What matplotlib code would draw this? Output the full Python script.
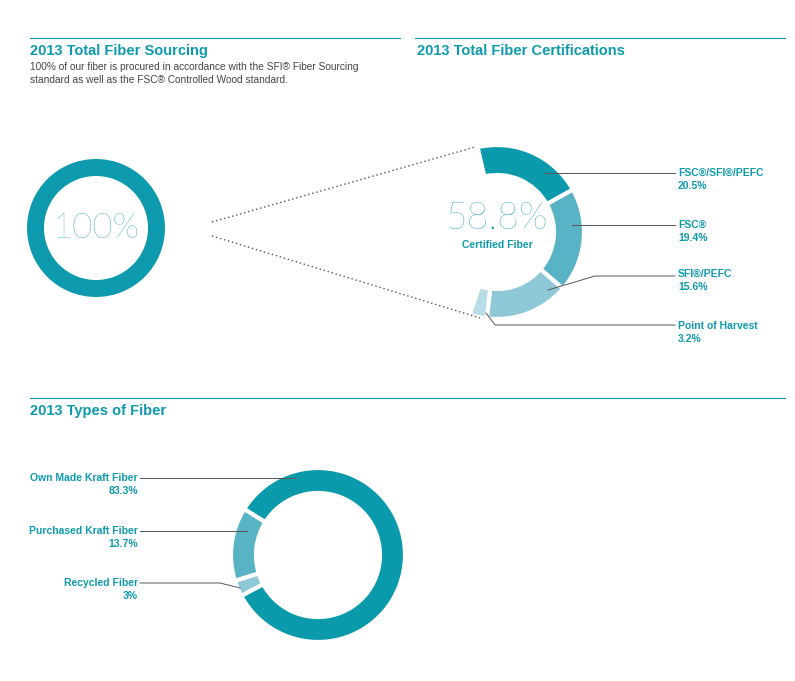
import matplotlib
matplotlib.use("Agg")
import matplotlib.pyplot as plt

plt.rcParams['font.family'] = ['Liberation Sans', 'DejaVu Sans']

TEAL = '#0e9aae'
cert_labels = ['FSC®/SFI®/PEFC', 'FSC®', 'SFI®/PEFC', 'Point of Harvest']
cert_values = [20.5, 19.4, 15.6, 3.2]
cert_colors = ['#0a9aab', '#58b3c5', '#8fc8d6', '#b9dde7']
certified_total = 58.8
type_labels = ['Purchased Kraft Fiber', 'Recycled Fiber', 'Own Made Kraft Fiber']
type_values = [13.7, 3.0, 83.3]
type_colors = ['#58b3c5', '#8fc8d6', '#0a9aab']
total_sourcing = 100

fig = plt.figure(figsize=(7.95, 6.81), dpi=100)
ax = fig.add_axes([0, 0, 1, 1])

# donut 1
ax.pie([total_sourcing], colors=[TEAL], center=(96, 228), radius=69,
       wedgeprops=dict(width=17, edgecolor='none'), frame=True)

# donut 2
vals2 = cert_values + [100 - sum(cert_values)]
cols2 = cert_colors + ['none']
ax.pie(vals2, colors=cols2, center=(497, 232), radius=87, startangle=-103,
       counterclock=True, wedgeprops=dict(width=30, edgecolor='white', linewidth=3), frame=True)

# donut 3
ax.pie(type_values, colors=type_colors, center=(318, 555), radius=87, startangle=-148,
       counterclock=False, wedgeprops=dict(width=25, edgecolor='white', linewidth=3), frame=True)

ax.set_xlim(0, 795)
ax.set_ylim(681, 0)
ax.set_aspect('auto')
ax.axis('off')

light = dict(family=['Lato', 'DejaVu Sans'], fontweight='light')
ax.text(96, 228, f'{total_sourcing}%', color=TEAL, fontsize=25, ha='center', va='center', **light)
ax.text(497, 219, f'{certified_total}%', color=TEAL, fontsize=27, ha='center', va='center', **light)
ax.text(497, 245, 'Certified Fiber', color=TEAL, fontsize=7.5, fontweight='bold', ha='center', va='center')

# headers
for x0, x1, y in [(30, 400, 38), (415, 785, 38), (30, 785, 398)]:
    ax.plot([x0, x1], [y, y], color=TEAL, lw=0.8)
ax.text(30, 51, '2013 Total Fiber Sourcing', color=TEAL, fontsize=10.5, fontweight='bold', va='center')
ax.text(417, 51, '2013 Total Fiber Certifications', color=TEAL, fontsize=10.5, fontweight='bold', va='center')
ax.text(30, 411, '2013 Types of Fiber', color=TEAL, fontsize=10.5, fontweight='bold', va='center')
ax.text(30, 67, '100% of our fiber is procured in accordance with the SFI® Fiber Sourcing',
        color='#444444', fontsize=7.3, va='center')
ax.text(30, 80, 'standard as well as the FSC® Controlled Wood standard.',
        color='#444444', fontsize=7.3, va='center')

# dotted connectors
ax.plot([212, 475], [222, 147], ls=(0, (1, 2)), color='#555555', lw=1)
ax.plot([212, 480], [236, 318], ls=(0, (1, 2)), color='#555555', lw=1)

lc = '#555555'
label_pos = [173, 225, 274, 326]
paths = [([545, 675], [173, 173]),
         ([572, 675], [225, 225]),
         ([548, 595, 675], [290, 276, 276]),
         ([486, 495, 675], [313, 325, 325])]
for lab, v, y, (px, py) in zip(cert_labels, cert_values, label_pos, paths):
    ax.plot(px, py, color=lc, lw=0.7)
    ax.text(678, y, lab, color=TEAL, fontsize=7.5, fontweight='bold', va='center')
    ax.text(678, y + 13, f'{v}%', color=TEAL, fontsize=7.5, fontweight='bold', va='center')

tpos = {'Own Made Kraft Fiber': (478, [140, 295], [478, 478]),
        'Purchased Kraft Fiber': (531, [140, 247], [531, 531]),
        'Recycled Fiber': (583, [140, 220, 240], [583, 583, 588])}
for lab, v in zip(type_labels, type_values):
    y, px, py = tpos[lab]
    ax.plot(px, py, color=lc, lw=0.7)
    ax.text(138, y, lab, color=TEAL, fontsize=7.5, fontweight='bold', ha='right', va='center')
    ax.text(138, y + 13, f'{v:g}%', color=TEAL, fontsize=7.5, fontweight='bold', ha='right', va='center')

fig.savefig('out.png', dpi=100)
